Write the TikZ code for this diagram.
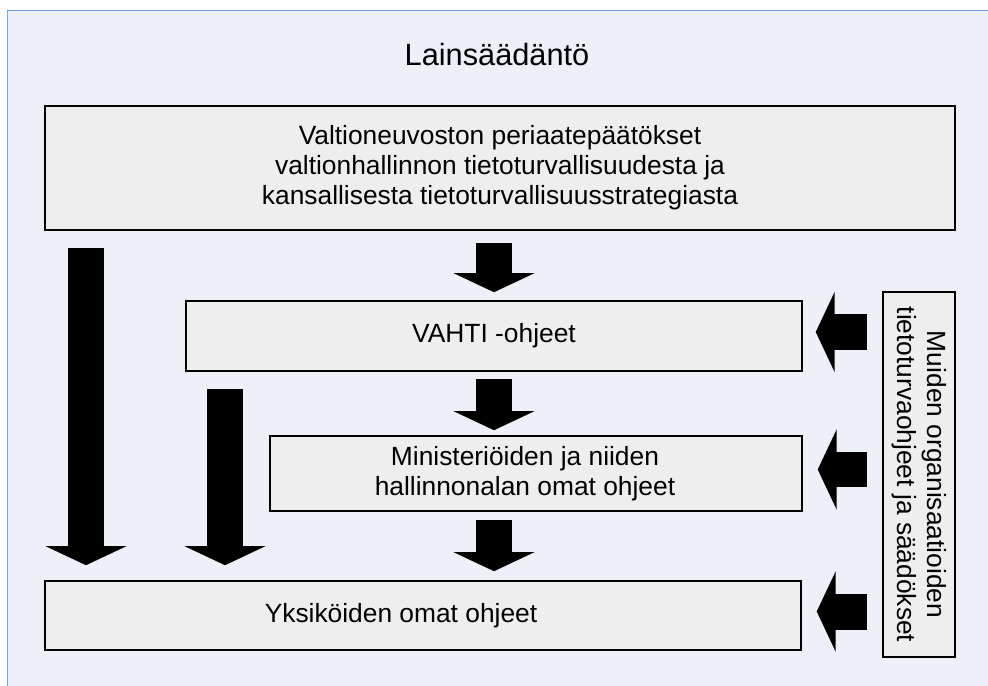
\documentclass[tikz,border=0pt]{standalone}
\usepackage{fontspec}
\setmainfont{Liberation Sans}
\usetikzlibrary{positioning, arrows.meta}
\definecolor{bgblue}{HTML}{EDF0F8}
\definecolor{frameblue}{HTML}{6FA8DC}
\definecolor{boxgray}{HTML}{EEEEEE}

\begin{document}
\begin{tikzpicture}[
    x=0.02cm, y=-0.02cm,
    % Gray boxes for each level of guidance
    level_box/.style={rectangle, draw=black, fill=boxgray, line width=0.9pt, align=center, inner sep=0pt, font=\fontsize{15}{17}\selectfont},
    % Text set over a box
    level_text/.style={align=center, inner sep=0pt, font=\fontsize{15}{17}\selectfont},
    % Fat black block arrows
    big_arrow/.style={-{Triangle[width=1.6cm, length=0.38cm]}, line width=0.72cm, color=black}
]

    % --- BACKGROUND ---
    \useasboundingbox (0,0) rectangle (988,686);
    \filldraw[fill=bgblue, draw=frameblue, line width=0.9pt] (7.5,10.5) rectangle (1000,700);

    % --- TITLE ---
    \node[font=\fontsize{17.5}{21}\selectfont] (title) at (497,55) {Lainsäädäntö};

    % --- LEVELS ---
    \node[level_box, minimum width=18.2cm, minimum height=2.48cm] (vnp) at (500,168)
        {Valtioneuvoston periaatepäätökset\\valtionhallinnon tietoturvallisuudesta ja\\kansallisesta tietoturvallisuusstrategiasta};
    \node[level_box, minimum width=12.32cm, minimum height=1.4cm] (vahti) at (494,336) {VAHTI -ohjeet};
    \node[level_box, minimum width=10.64cm, minimum height=1.5cm] (min) at (536,473.5) {};
    \node[level_text] (min_text) at ([xshift=-0.22cm]min.center) {Ministeriöiden ja niiden\\hallinnonalan omat ohjeet};
    \node[level_box, minimum width=15.12cm, minimum height=1.38cm] (yks) at (423,615.5) {};
    \node[level_text] (yks_text) at ([xshift=-0.44cm]yks.center) {Yksiköiden omat ohjeet};

    % --- OTHER ORGANISATIONS ---
    \node[level_box, rotate=-90, minimum width=7.3cm, minimum height=1.44cm] (muut) at (919,474.5)
        {Muiden organisaatioiden\\tietoturvaohjeet ja säädökset};

    % Downward arrows between levels
    \draw[big_arrow, shorten <=0.24cm, shorten >=0.16cm] (vnp.south -| vahti.north) -- (vahti.north);
    \draw[big_arrow, shorten <=0.14cm, shorten >=0.1cm] (vahti.south) -- (min.north -| vahti.south);
    \draw[big_arrow, shorten <=0.16cm, shorten >=0.18cm] (min.south -| vahti.south) -- (yks.north -| vahti.south);

    % Long arrows on the left
    \coordinate (left_a) at (86,248);
    \coordinate (left_b) at (225,389);
    \draw[big_arrow, shorten >=0.3cm] (left_a) -- (yks.north -| left_a);
    \draw[big_arrow, shorten >=0.3cm] (left_b) -- (yks.north -| left_b);

    % Arrows from the right
    \draw[big_arrow, shorten <=0.3cm, shorten >=0.26cm] ([yshift=0.08cm]muut.south |- vahti.east) -- ([yshift=0.08cm]vahti.east);
    \draw[big_arrow, shorten <=0.3cm, shorten >=0.3cm] ([yshift=0.08cm]muut.south |- min.east) -- ([yshift=0.08cm]min.east);
    \draw[big_arrow, shorten <=0.3cm, shorten >=0.3cm] ([yshift=0.08cm]muut.south |- yks.east) -- ([yshift=0.08cm]yks.east);

\end{tikzpicture}
\end{document}
